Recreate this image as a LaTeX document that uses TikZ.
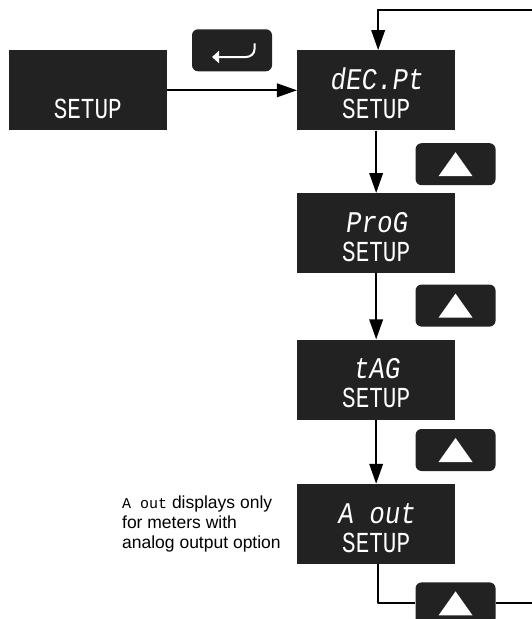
\documentclass[tikz,border=0pt]{standalone}
\usepackage{fontspec}
\setmainfont{Liberation Sans}
\newfontfamily\segbig[FakeSlant=0.14,FakeStretch=0.86]{Liberation Mono}
\newfontfamily\segsmall[FakeStretch=0.78]{Liberation Mono}
\newfontfamily\segnote{Liberation Mono}
\usepackage{tikz}
\usetikzlibrary{arrows.meta, positioning, calc}
\definecolor{mydark}{RGB}{34,34,34}
\tikzset{
    dispbox/.style={fill=mydark,minimum width=158pt,minimum height=80pt,inner sep=0pt},
    keybox/.style={fill=mydark,rounded corners=6pt,minimum width=80pt,minimum height=42pt,inner sep=0pt},
    toptext/.style={anchor=base,text=white,inner sep=0pt,font=\segbig\fontsize{30}{30}\selectfont},
    lowtext/.style={anchor=base,text=white,inner sep=0pt,font=\segsmall\fontsize{29}{29}\selectfont},
    flow/.style={line width=2pt,-{Triangle[length=20pt,width=13.5pt]}},
    plainflow/.style={line width=2pt,line join=round}
}
\begin{document}
\begin{tikzpicture}[x=1pt,y=1pt]
    \useasboundingbox (0,0) rectangle (532,-619);
    \clip (0,0) rectangle (532,-619);
    % displays
    \node[dispbox] (setup) at (87.75,-90.3) {};
    \node[dispbox,right=130pt of setup] (decpt) {};
    \node[dispbox,below=62.5pt of decpt] (prog) {};
    \node[dispbox,below=66pt of prog] (tag) {};
    \node[dispbox,below=64pt of tag] (aout) {};
    \foreach \nm in {setup,decpt,prog,tag,aout} {
        \node[lowtext] (\nm-low) at ($(\nm.center)+(0,-28)$) {SETUP};
    }
    \foreach \nm/\txt in {decpt/dEC.Pt,prog/ProG,tag/tAG,aout/A out} {
        \node[toptext] (\nm-top) at ($(\nm.center)+(0,1)$) {\txt};
    }
    % keys
    \node[keybox] (enterkey) at (232,-50.25) {};
    \node[keybox,below right=12.5pt and -40pt of decpt] (upa) {};
    \node[keybox,below right=11pt and -40pt of prog] (upb) {};
    \node[keybox,below right=9pt and -40pt of tag] (upc) {};
    \node[keybox,below right=18pt and -40pt of aout] (upd) {};
    \foreach \nm in {upa,upb,upc,upd} {
        \fill[white] ($(\nm.center)+(-17,-12)$) -- ($(\nm.center)+(17,-12)$) -- ($(\nm.center)+(0,12)$) -- cycle;
    }
    \draw[white,line width=2pt,-{Triangle[length=7pt,width=12pt]}] ($(enterkey.center)+(22.5,7)$) -- ($(enterkey.center)+(22.5,1)$) to[out=-90,in=0] ($(enterkey.center)+(14,-6.75)$) -- ($(enterkey.center)+(-20,-6.75)$);
    % flow
    \coordinate (loopin) at ($(decpt.north)+(2,40)$);
    \coordinate (loopinend) at (532,|-loopin);
    \coordinate (aoutexit) at ($(aout.south)+(2,0)$);
    \coordinate (loopout) at ($(aoutexit)+(0,-39)$);
    \draw[flow] (setup.east) -- (decpt.west);
    \draw[flow] (decpt) -- (prog);
    \draw[flow] (prog) -- (tag);
    \draw[flow] (tag) -- (aout);
    \draw[flow] (loopinend) -- (loopin) -- ($(decpt.north)+(2,0)$);
    \draw[plainflow] (aoutexit) -- (loopout) -- (upd.west |- loopout);
    \coordinate (rightedge) at (532,|-loopout);
    \draw[plainflow] (upd.east |- loopout) -- (rightedge);
    % note
    \node[left=16pt of aout,align=left,inner sep=0pt,font=\fontsize{17.5}{20}\selectfont] (aoutnote) {{\segnote\fontsize{15}{20}\selectfont A out} displays only\\for meters with\\analog output option};
\end{tikzpicture}
\end{document}
